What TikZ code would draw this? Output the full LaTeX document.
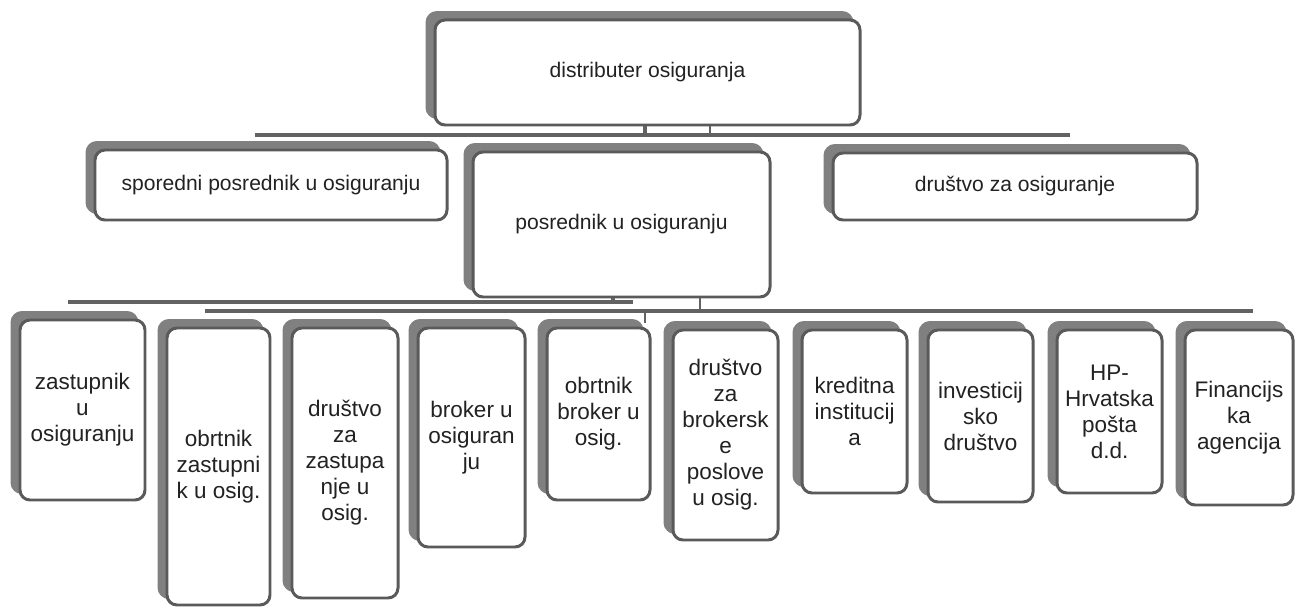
\documentclass[tikz,border=0pt]{standalone}
\usepackage{fontspec}
\setmainfont{Liberation Sans}
\usetikzlibrary{shadows}
\definecolor{edge}{HTML}{5A5A5A}
\definecolor{shade}{HTML}{808080}
\definecolor{ink}{HTML}{222222}
\definecolor{linec}{HTML}{626262}
\tikzset{
  wh/.style 2 args={minimum width=#1*0.02cm, minimum height=#2*0.02cm},
  orgbox/.style={draw=edge, line width=1.7pt, fill=white, rounded corners=0.2cm,
    text=ink, align=center, inner sep=1pt,
    font=\fontsize{12}{14.7}\selectfont,
    copy shadow={shadow xshift=-0.16cm, shadow yshift=0.15cm, fill=shade, draw=shade}},
  smallbox/.style={orgbox, font=\fontsize{12.8}{14.8}\selectfont},
  bar/.style={draw=linec, line width=2.1pt},
  thinbar/.style={draw=linec, line width=1.2pt}
}
\begin{document}
\begin{tikzpicture}[x=0.02cm, y=-0.02cm]
\useasboundingbox (0,0) rectangle (1300,607);

% top level
\node[orgbox, wh={425}{105}] (dist) at (647.5,72.5) {distributer osiguranja};

% second level
\node[orgbox, wh={352}{70}] (spor) at (271,185) {sporedni posrednik u osiguranju};
\node[orgbox, wh={297}{145}] (posr) at (621.5,224.5) {posrednik u osiguranju};
\node[orgbox, wh={364}{67}] (dzo) at (1015,186.5) {društvo za osiguranje};

% third level
\node[smallbox, wh={125}{180}] (b1) at (82.5,410) {zastupnik\\u\\osiguranju};
\node[smallbox, wh={103}{277}] (b2) at (218.5,466.5) {obrtnik\\zastupni\\k u osig.};
\node[smallbox, wh={106}{270}] (b3) at (345,463) {društvo\\za\\zastupa\\nje u\\osig.};
\node[smallbox, wh={107}{219}] (b4) at (471.5,437.5) {broker u\\osiguran\\ju};
\node[smallbox, wh={103}{172}] (b5) at (598.5,414) {obrtnik\\broker u\\osig.};
\node[smallbox, wh={105}{210}] (b6) at (725.5,435) {društvo\\za\\brokersk\\e\\poslove\\u osig.};
\node[smallbox, wh={105}{163}] (b7) at (854.5,411.5) {kreditna\\institucij\\a};
\node[smallbox, wh={105}{172}] (b8) at (980.5,416) {investicij\\sko\\društvo};
\node[smallbox, wh={105}{163}] (b9) at (1109.5,411.5) {HP-\\Hrvatska\\pošta\\d.d.};
\node[smallbox, wh={108}{175}] (b10) at (1239,417.5) {Financijs\\ka\\agencija};

% connector coordinates
\coordinate (l1a) at (255,135);
\coordinate (l1b) at (1070,135);
\coordinate (s1) at (645,135);
\coordinate (s2) at (710,135);
\coordinate (l2a) at (68,302);
\coordinate (l2b) at (633,302);
\coordinate (l3a) at (205,311);
\coordinate (l3b) at (1253,311);
\coordinate (s3) at (613,302);
\coordinate (s4) at (700,311);
\coordinate (s5) at (645,311);
\coordinate (s5e) at (645,323);

% connectors
\draw[bar] (l1a) -- (l1b);
\draw[bar] (dist.south -| s1) -- (s1);
\draw[thinbar] (dist.south -| s2) -- (s2);
\draw[bar] (l2a) -- (l2b);
\draw[bar] (l3a) -- (l3b);
\draw[bar] (posr.south -| s3) -- (s3);
\draw[thinbar] (posr.south -| s4) -- (s4);
\draw[thinbar] (s5) -- (s5e);
\end{tikzpicture}
\end{document}
